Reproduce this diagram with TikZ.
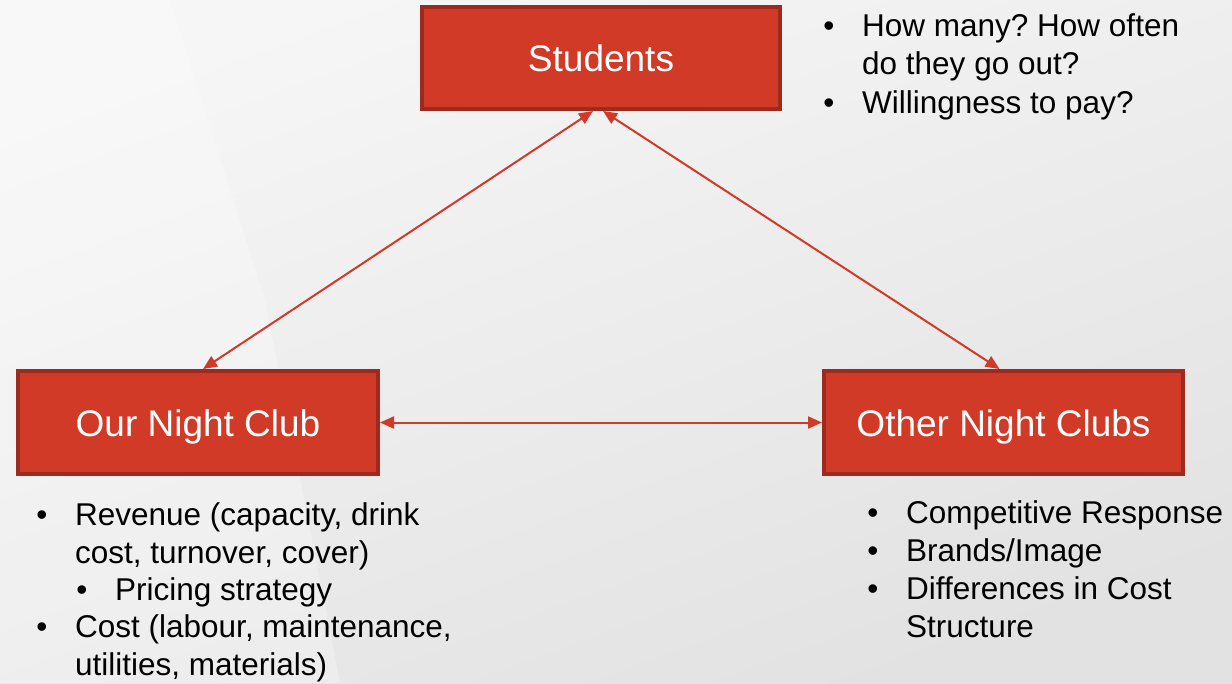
\documentclass[tikz,border=0pt]{standalone}
\usepackage{fontspec}
\setmainfont{Liberation Sans}
\frenchspacing
\usetikzlibrary{arrows.meta,calc}
\definecolor{boxred}{HTML}{D03A27}
\definecolor{boxedge}{HTML}{9C2A1E}
\definecolor{arrred}{HTML}{D03A27}
\definecolor{bgA}{HTML}{F6F6F6}
\definecolor{bgB}{HTML}{E2E2E2}
\tikzset{
  redbox/.style={draw=boxedge, fill=boxred, line width=4pt, minimum width=358pt,
    minimum height=102pt, inner sep=0pt, text=white, text height=27pt, text depth=0pt,
    font=\fontsize{37}{44}\selectfont},
  link/.style={draw=arrred, line width=2pt, {Triangle[length=14pt,width=12pt]}-{Triangle[length=14pt,width=12pt]}},
  txt/.style={anchor=base west, inner sep=0pt, font=\fontsize{31.5}{38}\selectfont, text=black},
  bul/.style={anchor=base, inner sep=0pt, font=\fontsize{31.5}{38}\selectfont, text=black}
}
\begin{document}
\begin{tikzpicture}[x=1pt,y=-1pt]
  \useasboundingbox (0,0) rectangle (1232,683);
  \shade[shading=axis, top color=bgA, bottom color=bgB, shading angle=20] (0,0) rectangle (1232,683);
  \fill[white, opacity=0.25] (0,0) -- (170,0) -- (265,300) -- (340,683) -- (0,683) -- cycle;

  \node[redbox] (S) at (601,58) {Students};
  \node[redbox, minimum width=360pt, minimum height=103pt] (O) at (198,422.5) {Our Night Club};
  \node[redbox, minimum width=359pt, minimum height=103pt] (C) at (1003.5,422.5) {Other Night Clubs};

  \draw[link] ([xshift=-8pt]S.south) -- ([xshift=5pt]O.north);
  \draw[link] ([xshift=2pt]S.south) -- ([xshift=-4pt]C.north);
  \draw[link] (O.east) -- (C.west);

  % top-right list
  \node[bul] (b1) at (829,36) {•};
  \node[txt] (t1) at (862,36) {How many? How often};
  \node[txt] (t2) at (862,74.5) {do they go out?};
  \node[bul] (b2) at (829,113) {•};
  \node[txt] (t3) at (862,113) {Willingness to pay?};

  % left list
  \node[bul] (l1b) at (42,525) {•};
  \node[txt] (l1) at (75,525) {Revenue (capacity, drink};
  \node[txt] (l2) at (75,563) {cost, turnover, cover)};
  \node[bul] (l3b) at (82,600) {•};
  \node[txt] (l3) at (115,600) {Pricing strategy};
  \node[bul] (l4b) at (42,637.5) {•};
  \node[txt] (l4) at (75,637.5) {Cost (labour, maintenance,};
  \node[txt] (l5) at (75,675) {utilities, materials)};

  % right list
  \node[bul] (r1b) at (873,523) {•};
  \node[txt] (r1) at (906,523) {Competitive Response};
  \node[bul] (r2b) at (873,561) {•};
  \node[txt] (r2) at (906,561) {Brands/Image};
  \node[bul] (r3b) at (873,599) {•};
  \node[txt] (r3) at (906,599) {Differences in Cost};
  \node[txt] (r4) at (906,637) {Structure};
\end{tikzpicture}
\end{document}
